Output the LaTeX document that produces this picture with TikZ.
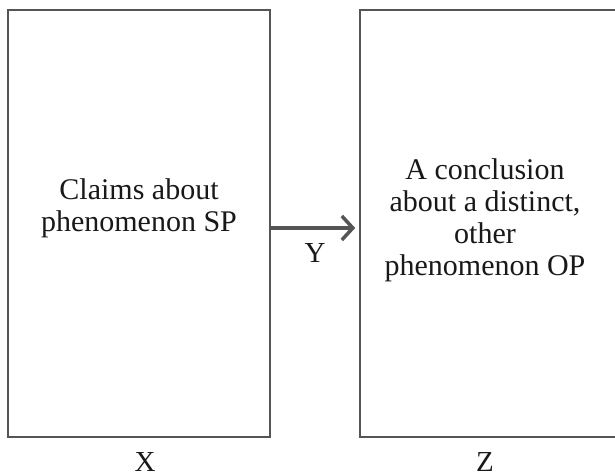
\documentclass[tikz,border=0pt]{standalone}
\usepackage{fontspec}
\setmainfont{Liberation Serif}
\usetikzlibrary{arrows.meta,positioning}
\definecolor{cLine}{RGB}{85,85,85}
\definecolor{cText}{RGB}{25,25,25}
\tikzset{
  basebox/.style={rectangle,draw=cLine,line width=1.6pt,fill=white},
  sidebox/.style={basebox,minimum height=427pt},
  bodytext/.style={align=center,inner sep=0pt,text=cText,
                   font=\fontsize{30}{32}\selectfont},
  tagtext/.style={inner sep=0pt,text=cText,font=\fontsize{29}{32}\selectfont},
  thkarr/.style={-{Straight Barb[length=11pt,width=24pt,line width=3.5pt]},
                 line width=3.5pt,color=cLine}
}
\begin{document}
\begin{tikzpicture}[x=1pt,y=1pt]
  \useasboundingbox (0,0) rectangle (615,473);
  \clip (0,0) rectangle (615,473);

  \node[sidebox,minimum width=262pt] (sp) at (139,249.5) {};
  \node[sidebox,minimum width=256pt] (op) at (488,249.5) {};

  \node[bodytext] (sptext) at ([yshift=15pt]sp.center)
      {Claims about\\ phenomenon SP};
  \node[bodytext] (optext) at ([xshift=-3pt,yshift=3pt]op.center)
      {A conclusion\\ about a distinct,\\ other\\ phenomenon OP};

  \draw[thkarr,shorten >=4pt] ([yshift=-4.5pt]sp.east) -- ([yshift=-4.5pt]op.west)
      node[tagtext,midway,below=14pt] (y) {Y};

  \node[tagtext,below=15pt of sp.south,xshift=6pt] (x) {X};
  \node[tagtext,below=15pt of op.south,xshift=-3pt] (z) {Z};

\end{tikzpicture}
\end{document}
